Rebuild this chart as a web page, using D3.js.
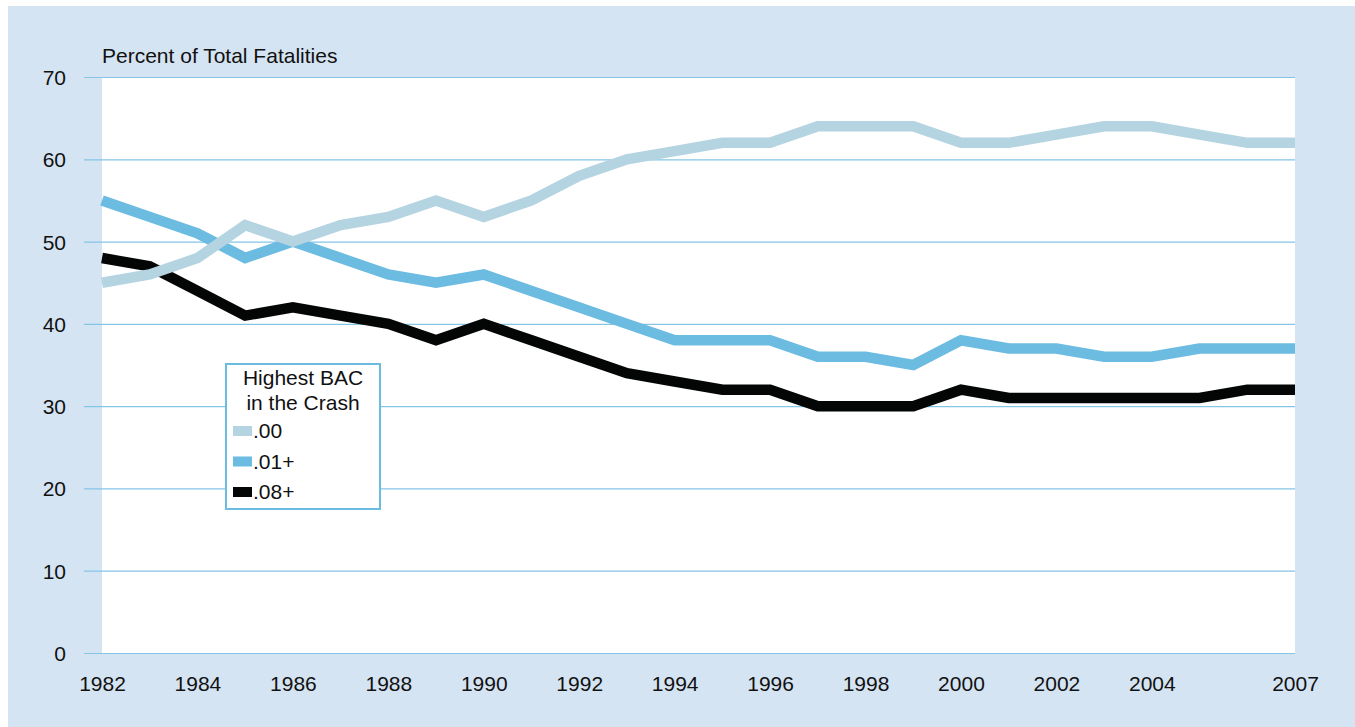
<!DOCTYPE html>
<html>
<head>
<meta charset="utf-8">
<script src="https://cdn.jsdelivr.net/npm/d3@7"></script>
<style>
  body { margin: 0; background: #fff; }
  text { font-family: "Liberation Sans", Arial, sans-serif; fill: #111; }
</style>
</head>
<body>
<div id="main"></div>
<script>
var years = d3.range(1982, 2008);
var bac00 = [45, 46, 48, 52, 50, 52, 53, 55, 53, 55, 58, 60, 61, 62, 62, 64, 64, 64, 62, 62, 63, 64, 64, 63, 62, 62];
var bac01 = [55, 53, 51, 48, 50, 48, 46, 45, 46, 44, 42, 40, 38, 38, 38, 36, 36, 35, 38, 37, 37, 36, 36, 37, 37, 37];
var bac08 = [48, 47, 44, 41, 42, 41, 40, 38, 40, 38, 36, 34, 33, 32, 32, 30, 30, 30, 32, 31, 31, 31, 31, 31, 32, 32];
var yTicks = [0, 10, 20, 30, 40, 50, 60, 70];
var xTicks = [1982, 1984, 1986, 1988, 1990, 1992, 1994, 1996, 1998, 2000, 2002, 2004, 2007];
var seriesNames = [".00", ".01+", ".08+"];
var seriesColors = ["#b5d4e1", "#6cbbe1", "#030605"];

var width = 1355, height = 727;
var mLeft = 102, mRight = 1295, mTop = 77, mBottom = 653;
var fs = "21px";

var svg = d3.select("#main").append("svg")
    .attr("width", width)
    .attr("height", height);

// panel background
svg.append("rect")
    .attr("x", 8).attr("y", 6)
    .attr("width", width - 8).attr("height", height - 6)
    .attr("fill", "#d5e4f3");

svg.append("rect")
    .attr("x", mLeft).attr("y", mTop)
    .attr("width", mRight - mLeft).attr("height", mBottom - mTop)
    .attr("fill", "#fff");

var x = d3.scaleLinear().domain([1982, 2007]).range([mLeft, mRight]);
var y = d3.scaleLinear().domain([0, 70]).range([mBottom, mTop]);

// grid + y labels
svg.append("g")
    .attr("transform", "translate(" + mLeft + ",0)")
    .call(d3.axisLeft(y).tickValues(yTicks).tickSize(18)
      .tickFormat(d3.format("d")))
    .call(function(g) {
      g.select(".domain").remove();
      g.selectAll(".tick line")
        .attr("x2", mRight - mLeft)
        .attr("x1", -18)
        .attr("stroke", "#84c5e6")
        .attr("stroke-width", 1.2);
      g.selectAll(".tick text")
        .attr("x", -36)
        .attr("dy", "0.36em")
        .style("font-size", fs)
        .style("font-family", "Liberation Sans, Arial, sans-serif")
        .attr("fill", "#111");
    });

// x labels
svg.append("g")
    .attr("transform", "translate(0," + mBottom + ")")
    .call(d3.axisBottom(x).tickValues(xTicks).tickSize(0).tickPadding(23)
      .tickFormat(d3.format("d")))
    .call(function(g) {
      g.select(".domain").remove();
      g.selectAll(".tick text")
        .style("font-size", fs)
        .style("font-family", "Liberation Sans, Arial, sans-serif")
        .attr("fill", "#111");
    });

svg.append("text")
    .attr("x", mLeft)
    .attr("y", 63)
    .style("font-size", fs)
    .text("Percent of Total Fatalities");

var line = d3.line()
    .x(function(d, i) { return x(years[i]); })
    .y(function(d) { return y(d); });

// draw order: .08+, .01+, .00 on top
var drawOrder = [2, 1, 0];
var allSeries = [bac00, bac01, bac08];
drawOrder.forEach(function(k) {
  svg.append("path")
    .datum(allSeries[k])
    .attr("d", line)
    .attr("fill", "none")
    .attr("stroke", seriesColors[k])
    .attr("stroke-width", 10.5)
    .attr("stroke-linejoin", "miter")
    .attr("stroke-linecap", "butt");
});

// legend
var lg = svg.append("g").attr("transform", "translate(226,364)");
lg.append("rect")
    .attr("width", 154).attr("height", 145)
    .attr("fill", "#fff")
    .attr("stroke", "#6cbbe1")
    .attr("stroke-width", 2);
lg.append("text").attr("x", 77).attr("y", 21)
    .attr("text-anchor", "middle").style("font-size", fs)
    .text("Highest BAC");
lg.append("text").attr("x", 77).attr("y", 46)
    .attr("text-anchor", "middle").style("font-size", fs)
    .text("in the Crash");
seriesNames.forEach(function(name, i) {
  var yy = 67 + i * 30.5;
  lg.append("rect")
    .attr("x", 7).attr("y", yy - 5)
    .attr("width", 19).attr("height", 10)
    .attr("fill", seriesColors[i]);
  lg.append("text")
    .attr("x", 27).attr("y", yy + 7)
    .style("font-size", fs)
    .text(name);
});
</script>
</body>
</html>
